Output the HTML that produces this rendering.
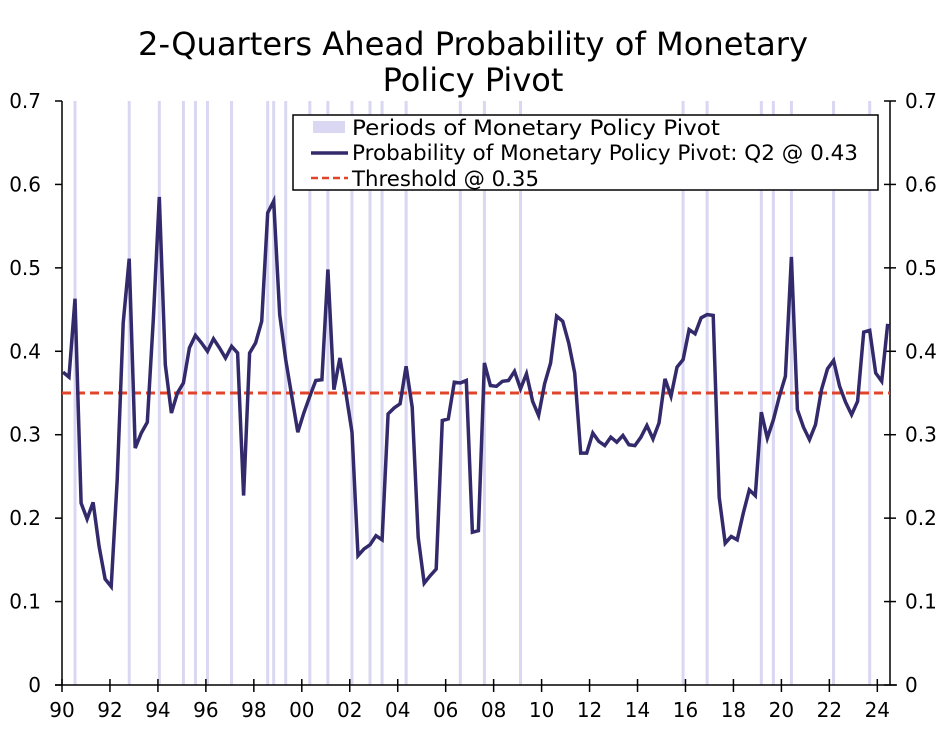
<!DOCTYPE html>
<html><head><meta charset="utf-8"><style>
body{margin:0;background:#fff;}
svg text{font-family:"DejaVu Sans","Liberation Sans",sans-serif;fill:#000;}
</style></head><body>
<svg id="chart" width="947" height="727" xmlns="http://www.w3.org/2000/svg">
<g>
<text x="473" y="55" font-size="32" text-anchor="middle" textLength="670" lengthAdjust="spacingAndGlyphs">2-Quarters Ahead Probability of Monetary</text>
<text x="473" y="91" font-size="32" text-anchor="middle">Policy Pivot</text>
</g>
<g id="bands"></g>
<g id="axes"></g>
<line id="thresh" stroke="#e0452b" stroke-width="3" stroke-dasharray="9,5"/>
<path id="line" fill="none" stroke="#332a6b" stroke-width="3.5" stroke-linejoin="miter"/>
<g>
<rect x="293" y="115" width="585" height="75" fill="#fff" stroke="#000" stroke-width="1.5"/>
<rect x="313" y="121" width="32" height="12" fill="#d9d7f1"/>
<text x="352" y="135" font-size="21" textLength="368" lengthAdjust="spacingAndGlyphs">Periods of Monetary Policy Pivot</text>
<line x1="311" y1="153" x2="348" y2="153" stroke="#332a6b" stroke-width="3.5"/>
<text x="352" y="160" font-size="21" textLength="506" lengthAdjust="spacingAndGlyphs">Probability of Monetary Policy Pivot: Q2 @ 0.43</text>
<line x1="311" y1="178" x2="348" y2="178" stroke="#e0452b" stroke-width="2.5" stroke-dasharray="7,4"/>
<text x="352" y="186" font-size="21" textLength="187" lengthAdjust="spacingAndGlyphs">Threshold @ 0.35</text>
</g>
</svg>
<script>
const values=[0.375,0.369,0.463,0.218,0.199,0.219,0.166,0.127,0.118,0.246,0.434,0.511,0.284,0.302,0.315,0.438,0.585,0.384,0.326,0.350,0.362,0.404,0.419,0.410,0.400,0.415,0.404,0.392,0.406,0.398,0.227,0.398,0.410,0.436,0.566,0.580,0.444,0.390,0.346,0.303,0.326,0.346,0.365,0.366,0.498,0.354,0.392,0.350,0.303,
0.155,0.163,0.168,0.179,0.174,0.325,0.332,0.337,0.382,0.333,0.177,0.122,0.131,0.139,0.317,0.319,0.363,0.362,0.365,0.183,0.185,0.386,0.359,0.358,0.364,0.365,0.376,0.355,0.373,0.340,0.323,0.361,0.386,0.442,0.436,0.410,0.374,0.278,0.278,0.302,0.292,0.287,0.297,0.291,0.299,0.288,0.287,
0.297,0.311,0.295,0.314,0.367,0.346,0.381,0.390,0.426,0.421,0.440,0.444,0.443,0.225,0.170,0.178,0.174,0.206,0.234,0.227,0.327,0.296,0.318,0.346,0.370,0.513,0.330,0.309,0.294,0.312,0.354,0.379,0.389,0.358,0.339,0.324,0.340,0.423,0.425,0.374,0.364,0.433];
const pivotQuarters=[2,11,16,20,22,24,28,34,35,37,41,44,48,51,53,57,66,70,76,103,107,116,118,121,128,134];
const threshold=0.35;
const yTicks=[0,0.1,0.2,0.3,0.4,0.5,0.6,0.7];
const xTickLabels=["90","92","94","96","98","00","02","04","06","08","10","12","14","16","18","20","22","24"];
const NS="http://www.w3.org/2000/svg";
const X0=62,X1=890,Y0=685,YT=101;
function xq(i){return 63+i*6.02;}
function xy(yr){return X0+yr*23.98;}
function yv(v){return Y0-(v/0.7)*(Y0-YT);}
function mk(tag,attrs,parent){const e=document.createElementNS(NS,tag);for(const k in attrs)e.setAttribute(k,attrs[k]);parent.appendChild(e);return e;}
const bands=document.getElementById('bands');
pivotQuarters.forEach(q=>{
  const r=mk('rect',{x:xq(q)-1.5,y:YT,width:3,height:Y0-YT,fill:'#d9d7f1'},bands);
  
  
});
const ax=document.getElementById('axes');
mk('line',{x1:X0,y1:YT,x2:X0,y2:Y0,stroke:'#000','stroke-width':1.5},ax);
mk('line',{x1:X1,y1:YT,x2:X1,y2:Y0,stroke:'#000','stroke-width':1.5},ax);
mk('line',{x1:55,y1:Y0,x2:897,y2:Y0,stroke:'#000','stroke-width':1.5},ax);
yTicks.forEach(t=>{
  const y=yv(t);
  mk('line',{x1:55,y1:y,x2:62,y2:y,stroke:'#000','stroke-width':1.5},ax);
  mk('line',{x1:884,y1:y,x2:896,y2:y,stroke:'#000','stroke-width':1.5},ax);
  const l=mk('text',{x:41,y:y+7,'font-size':20,'text-anchor':'end'},ax);l.textContent=t===0?'0':String(t);
  
  
  const r=mk('text',{x:905,y:y+7,'font-size':20},ax);r.textContent=t===0?'0':String(t);
  
  
});
xTickLabels.forEach((lab,k)=>{
  const x=xy(k*2);
  mk('line',{x1:x,y1:Y0-6,x2:x,y2:Y0+7,stroke:'#000','stroke-width':1.5},ax);
  const t=mk('text',{x:x,y:Y0+32,'font-size':20,'text-anchor':'middle'},ax);t.textContent=lab;
  
  
});
const th=document.getElementById('thresh');
th.setAttribute('x1',X0);th.setAttribute('x2',X1);th.setAttribute('y1',yv(threshold));th.setAttribute('y2',yv(threshold));
document.getElementById('line').setAttribute('d',values.map((v,i)=>(i?'L':'M')+xq(i).toFixed(1)+','+yv(v).toFixed(1)).join(''));
</script>
</body></html>
